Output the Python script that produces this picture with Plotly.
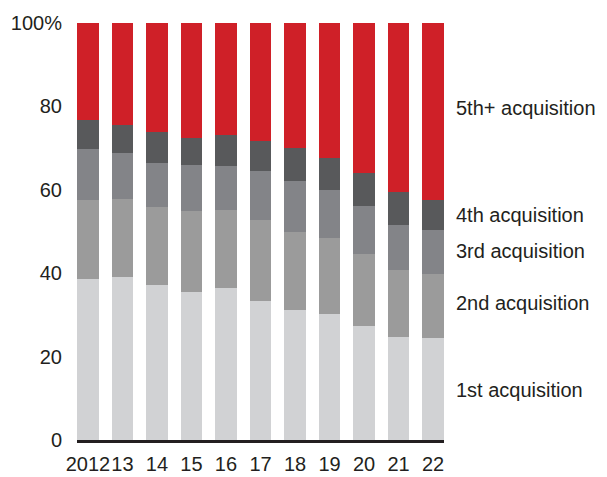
import plotly.graph_objects as go

years = ["2012", "13", "14", "15", "16", "17", "18", "19", "20", "21", "22"]
first = [38.6, 39.1, 37.2, 35.5, 36.5, 33.3, 31.2, 30.2, 27.3, 24.7, 24.5]
second = [19.0, 18.7, 18.7, 19.4, 18.7, 19.5, 18.7, 18.2, 17.3, 16.1, 15.3]
third = [12.2, 11.0, 10.5, 11.0, 10.5, 11.7, 12.2, 11.6, 11.5, 10.8, 10.6]
fourth = [7.0, 6.7, 7.5, 6.6, 7.4, 7.2, 8.0, 7.7, 7.9, 7.9, 7.2]
fifth = [23.2, 24.5, 26.1, 27.5, 26.9, 28.3, 29.9, 32.3, 36.0, 40.5, 42.4]

series_names = ["1st acquisition", "2nd acquisition", "3rd acquisition", "4th acquisition", "5th+ acquisition"]
series_vals = [first, second, third, fourth, fifth]
colors = ["#d1d2d4", "#9b9b9b", "#838488", "#58595b", "#cf2028"]
label_y = [12.0, 32.9, 45.3, 54.0, 79.6]

ytick_vals = [0, 20, 40, 60, 80, 100]
ytick_text = ["0", "20", "40", "60", "80", "100%"]

xs = list(range(len(years)))
fig = go.Figure()
for name, vals, col in zip(series_names, series_vals, colors):
    fig.add_trace(go.Bar(x=xs, y=vals, name=name, marker=dict(color=col, line=dict(width=0)),
                         showlegend=False))

for name, yv in zip(series_names, label_y):
    fig.add_annotation(x=1.027, xref="paper", y=yv, yref="y", text=name, showarrow=False,
                       xanchor="left", yanchor="middle",
                       font=dict(size=20, color="#231f20", family="Liberation Sans, Arial"))

fig.update_layout(
    barmode="stack", bargap=0.365,
    width=599, height=469,
    margin=dict(l=69, r=163, t=15, b=37),
    plot_bgcolor="white", paper_bgcolor="white",
    font=dict(family="Liberation Sans, Arial", size=20, color="#231f20"),
)
fig.update_xaxes(range=[-0.318, 10.318], tickvals=xs, ticktext=years, showgrid=False,
                 showline=True, linecolor="#231f20", linewidth=3, ticks="",
                 zeroline=False, tickfont=dict(size=20), tickangle=0, automargin=False,
                 ticklabelstandoff=4)
fig.update_yaxes(range=[0, 100], tickvals=ytick_vals, ticktext=ytick_text, showgrid=False,
                 zeroline=False, showline=False, ticks="", tickfont=dict(size=20),
                 ticklabelstandoff=14, automargin=False)

fig.write_html("out.html")
